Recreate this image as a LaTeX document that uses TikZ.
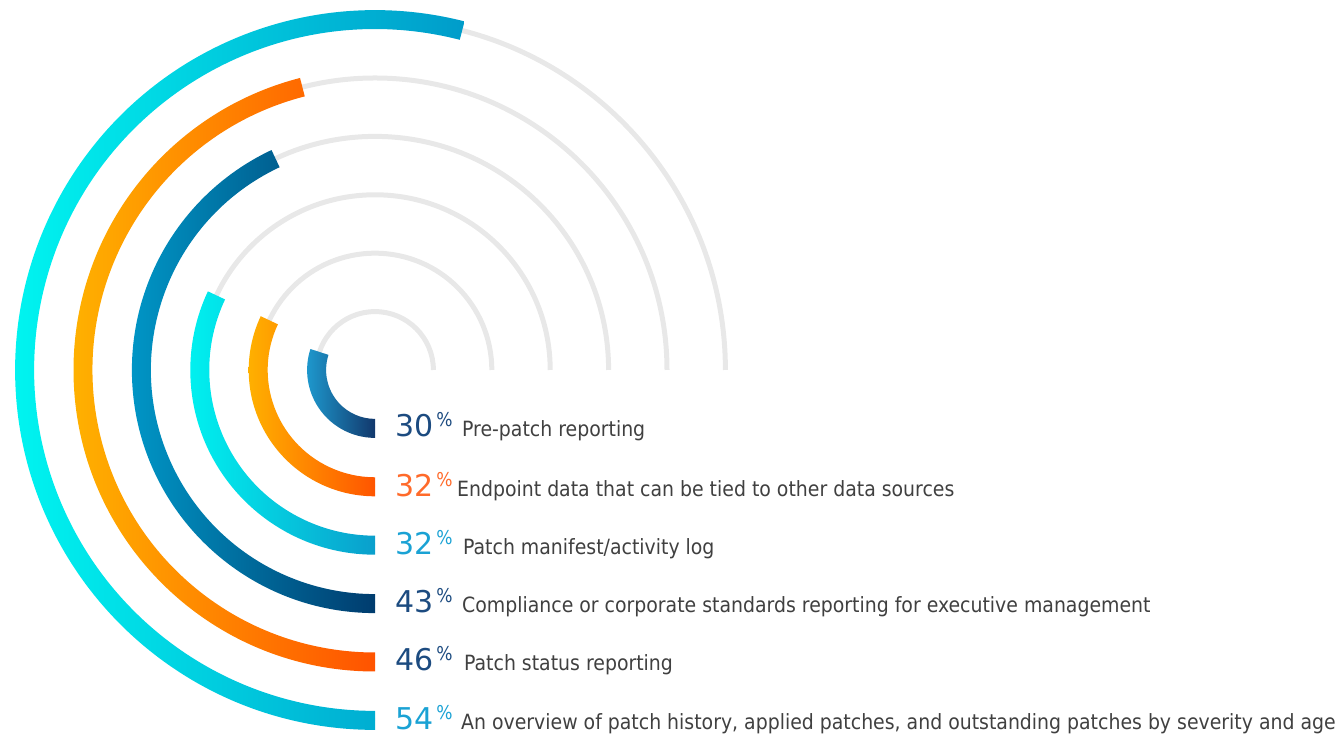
\documentclass[tikz,border=0pt]{standalone}
\usepackage{fontspec}
\setmainfont{DejaVu Sans Condensed}
\newfontfamily\chartnumfont{DejaVu Sans}
\definecolor{trackgrey}{HTML}{E8E8E8}
\definecolor{labelgrey}{HTML}{404040}
\definecolor{numblue}{HTML}{1C4B80}
\definecolor{numorange}{HTML}{FF6A2A}
\definecolor{numcyan}{HTML}{1AA2D4}
\definecolor{aL}{HTML}{1E9BD0}\definecolor{aR}{HTML}{12386C}
\definecolor{bL}{HTML}{FFB000}\definecolor{bR}{HTML}{FF5500}
\definecolor{cL}{HTML}{00F2F0}\definecolor{cR}{HTML}{0A9FCC}
\definecolor{dL}{HTML}{009ACA}\definecolor{dR}{HTML}{003C6E}
\definecolor{eL}{HTML}{FFB400}\definecolor{eR}{HTML}{FF5300}
\definecolor{fL}{HTML}{00F4F0}\definecolor{fR}{HTML}{009CCA}
\newcommand\chartnum[1]{{\chartnumfont\fontsize{30}{30}\selectfont #1}\hspace{3pt}\raisebox{10pt}{\fontsize{19}{19}\selectfont\%}}
\newcommand\radialbar[4]{%
  \pgfmathsetmacro\barend{270-3.6*#2}%
  \pgfmathsetmacro\barout{#1+9.5}%
  \pgfmathsetmacro\barin{#1-9.5}%
  \shade[left color=#3,right color=#4]
    ([shift={(c)}]270:\barout) arc[start angle=270,end angle=\barend,radius=\barout]
    -- ([shift={(c)}]\barend:\barin) arc[start angle=\barend,end angle=270,radius=\barin] -- cycle;}
\begin{document}
\begin{tikzpicture}[x=1pt,y=1pt,
  track/.style={line width=5pt,draw=trackgrey},
  lbl/.style={anchor=base west,inner sep=0pt,text=labelgrey,font=\fontsize{21}{24}\selectfont},
  num/.style={anchor=base west,inner sep=0pt}]
\useasboundingbox (0,0) rectangle (1342,735);
\coordinate (c) at (375,365);
\foreach \r in {58.4,116.8,175.2,233.6,292,350.4}
  \draw[track] ([shift={(c)}]0:\r) arc[start angle=0,end angle=270,radius=\r];
\radialbar{58.4}{30}{aL}{aR}
\radialbar{116.8}{32}{bL}{bR}
\radialbar{175.2}{32}{cL}{cR}
\radialbar{233.6}{43}{dL}{dR}
\radialbar{292}{46}{eL}{eR}
\radialbar{350.4}{54}{fL}{fR}
\node[num,text=numblue]   (n1) at (395,298) {\chartnum{30}};
\node[num,text=numorange] (n2) at (395,238) {\chartnum{32}};
\node[num,text=numcyan]   (n3) at (395,180) {\chartnum{32}};
\node[num,text=numblue]   (n4) at (395,122) {\chartnum{43}};
\node[num,text=numblue]   (n5) at (395,64)  {\chartnum{46}};
\node[num,text=numcyan]   (n6) at (395,5)   {\chartnum{54}};
\node[lbl] (l1) at (462,298) {Pre-patch reporting};
\node[lbl] (l2) at (457,238) {Endpoint data that can be tied to other data sources};
\node[lbl] (l3) at (463,180) {Patch manifest/activity log};
\node[lbl] (l4) at (462,122) {Compliance or corporate standards reporting for executive management};
\node[lbl] (l5) at (464,64)  {Patch status reporting};
\node[lbl] (l6) at (461,5)   {An overview of patch history, applied patches, and outstanding patches by severity and age};
\end{tikzpicture}
\end{document}
